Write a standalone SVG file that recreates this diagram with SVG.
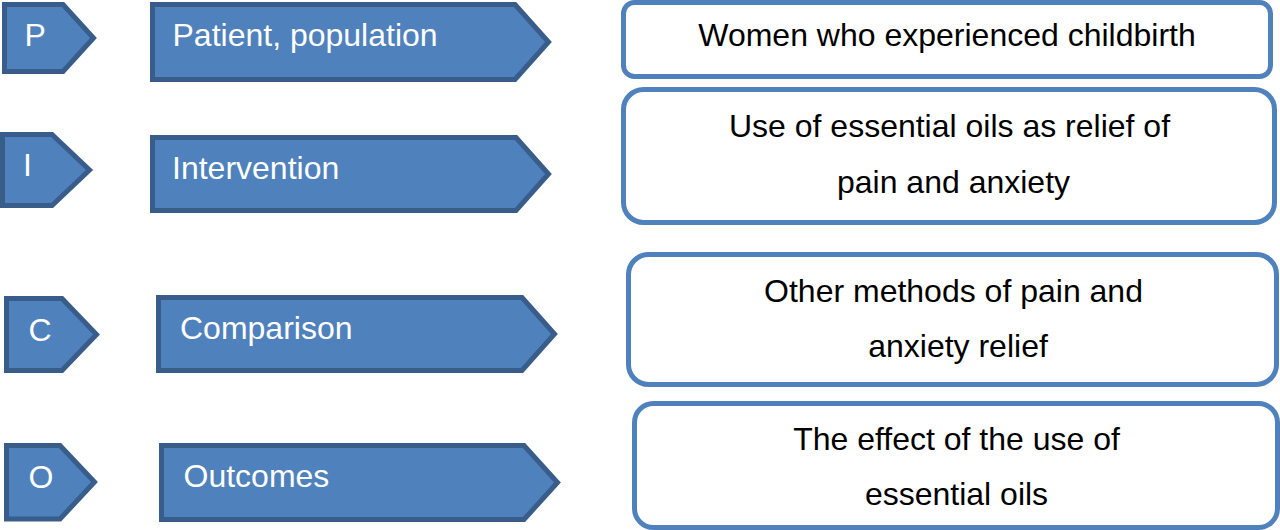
<svg xmlns="http://www.w3.org/2000/svg" width="1280" height="530" viewBox="0 0 1280 530">
<style>
.tag{fill:#4F81BD;stroke:#385D8A;stroke-width:5;stroke-linejoin:miter}
.box{fill:#FFFFFF;stroke:#4F81BD;stroke-width:5}
.wt{font-family:"Liberation Sans",Arial,sans-serif;font-size:32px;fill:#FFFFFF}
.bt{font-family:"Liberation Sans",Arial,sans-serif;font-size:32px;fill:#000000;text-anchor:middle}
</style>
<rect width="1280" height="530" fill="#FFFFFF"/>
<g id="connectors"></g>
<g id="tag-P">
<polygon class="tag" points="4.5,4.5 63,4.5 93.5,38 63,71.5 4.5,71.5"/>
<text class="wt" x="24.5" y="46">P</text>
</g>
<g id="label-P">
<polygon class="tag" points="152.5,4.5 515,4.5 548.5,42 515,79.5 152.5,79.5"/>
<text class="wt" x="172.5" y="46">Patient, population</text>
</g>
<g id="tag-I">
<polygon class="tag" points="2.5,134.5 52,134.5 89.5,170 52,205.5 2.5,205.5"/>
<text class="wt" x="23" y="176">I</text>
</g>
<g id="label-I">
<polygon class="tag" points="152.5,137.5 516,137.5 548.5,174 516,210.5 152.5,210.5"/>
<text class="wt" x="172" y="179">Intervention</text>
</g>
<g id="tag-C">
<polygon class="tag" points="6.5,298.5 62,298.5 96.5,334.5 62,370.5 6.5,370.5"/>
<text class="wt" x="28.5" y="341">C</text>
</g>
<g id="label-C">
<polygon class="tag" points="158.5,297.5 522,297.5 554.5,334 522,370.5 158.5,370.5"/>
<text class="wt" x="180" y="339">Comparison</text>
</g>
<g id="tag-O">
<polygon class="tag" points="6.5,445.5 60,445.5 94.5,482 60,519 6.5,519"/>
<text class="wt" x="28.5" y="488">O</text>
</g>
<g id="label-O">
<polygon class="tag" points="161.5,445.5 524,445.5 557.5,482.5 524,519.5 161.5,519.5"/>
<text class="wt" x="183.5" y="487">Outcomes</text>
</g>
<g id="box-P">
<rect class="box" x="623.5" y="2.5" width="647" height="74" rx="11" ry="11"/>
<text class="bt" x="947" y="46">Women who experienced childbirth</text>
</g>
<g id="box-I">
<rect class="box" x="623.5" y="89.5" width="651" height="133" rx="20" ry="20"/>
<text class="bt" x="949.5" y="137">Use of essential oils as relief of</text>
<text class="bt" x="953.5" y="193">pain and anxiety</text>
</g>
<g id="box-C">
<rect class="box" x="628.5" y="254.5" width="648" height="130" rx="20" ry="20"/>
<text class="bt" x="953.5" y="302">Other methods of pain and</text>
<text class="bt" x="958" y="357">anxiety relief</text>
</g>
<g id="box-O">
<rect class="box" x="634.5" y="403.5" width="643" height="124" rx="19" ry="19"/>
<text class="bt" x="956.5" y="450">The effect of the use of</text>
<text class="bt" x="956.5" y="505">essential oils</text>
</g>
</svg>
